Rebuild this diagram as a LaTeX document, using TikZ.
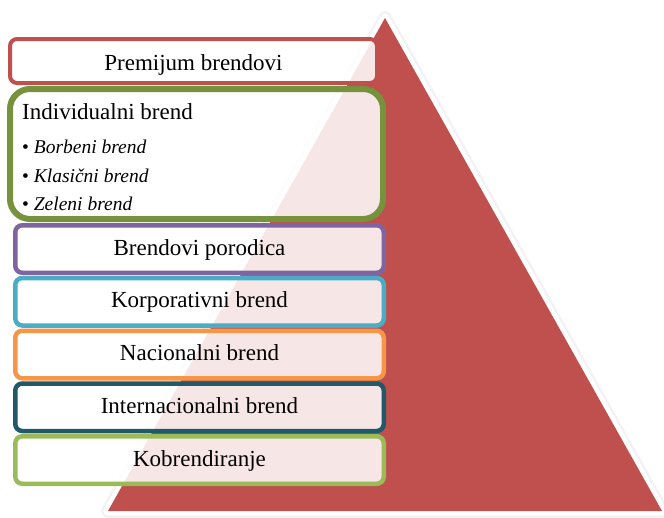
\documentclass[tikz,border=0pt]{standalone}
\usepackage{fontspec}
\setmainfont{Liberation Serif}
\begin{document}
\definecolor{pyrred}{HTML}{C0504D}
\definecolor{tiergreen}{HTML}{76923C}
\definecolor{tierpurple}{HTML}{8064A2}
\definecolor{tierblue}{HTML}{4BACC6}
\definecolor{tierorange}{HTML}{F79646}
\definecolor{tierteal}{HTML}{215968}
\definecolor{tierlime}{HTML}{9BBB59}
\begin{tikzpicture}[x=1pt,y=-1pt,
  tier/.style={draw=#1, line width=4.5pt, rounded corners=7pt,
    fill=white, fill opacity=0.86, text opacity=1,
    minimum width=368.5pt, minimum height=47.5pt, inner sep=0pt,
    text height=16pt, text depth=4pt,
    font=\fontsize{23}{27}\selectfont},
  heading/.style={anchor=base west, inner sep=0pt, font=\fontsize{23}{27}\selectfont},
  item/.style={anchor=base west, inner sep=0pt, font=\fontsize{19.5}{23}\selectfont}]
\useasboundingbox (0,0) rectangle (664,517);

% pyramid with white rim and soft shadow
\coordinate (apex) at (385,18);
\coordinate (bl) at (108,511);
\coordinate (br) at (662,511);
\draw[black!4, line width=14pt, line join=round] (apex) -- (bl) -- (br) -- cycle;
\draw[black!6, line width=11pt, line join=round] (apex) -- (bl) -- (br) -- cycle;
\draw[white, line width=9pt, line join=round] (apex) -- (bl) -- (br) -- cycle;
\fill[pyrred] (apex) -- (bl) -- (br) -- cycle;

% tiers
\node[tier=pyrred, minimum width=367pt, minimum height=44pt, line width=4pt,
  text height=18pt, text depth=0pt] (premium) at (193.5,61) {Premijum brendovi};
\node[tier=tiergreen, line width=6pt, rounded corners=20pt,
  minimum width=373pt, minimum height=130pt] (indiv) at (196.5,154) {};
\node[heading] (indivtitle) at (22,119) {Individualni brend};
\node[item] (borbeni) at (22,153) {• \textit{Borbeni brend}};
\node[item] (klasicni) at (22,182) {• \textit{Klasični brend}};
\node[item] (zeleni) at (22,210) {• \textit{Zeleni brend}};
\node[tier=tierpurple] (porodica) at (199.5,249) {Brendovi porodica};
\node[tier=tierblue] (korpor) at (199.5,301.75) {Korporativni brend};
\node[tier=tierorange] (nacion) at (199.5,354.5) {Nacionalni brend};
\node[tier=tierteal] (internac) at (199.5,407.25) {Internacionalni brend};
\node[tier=tierlime] (kobrend) at (199.5,460) {Kobrendiranje};
\end{tikzpicture}
\end{document}
